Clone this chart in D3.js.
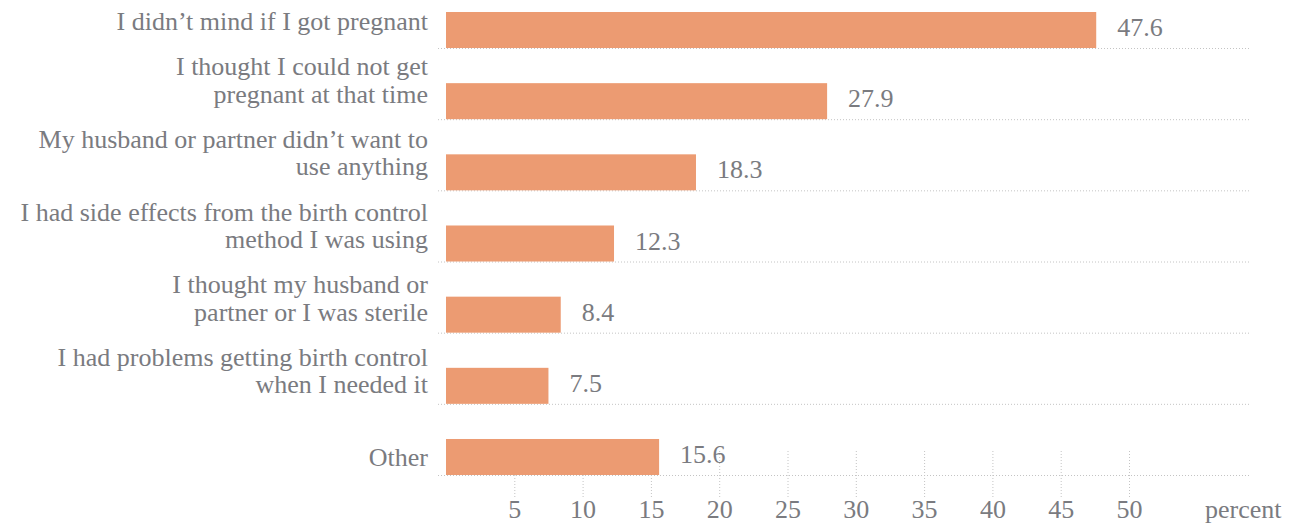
<!DOCTYPE html>
<html>
<head>
<meta charset="utf-8">
<script src="https://cdn.jsdelivr.net/npm/d3@7"></script>
<style>
  body { margin: 0; background: #fff; }
</style>
</head>
<body>
<div class="chart"></div>
<script>
// data
var reasons = [
  ["I didn\u2019t mind if I got pregnant"],
  ["I thought I could not get", "pregnant at that time"],
  ["My husband or partner didn\u2019t want to", "use anything"],
  ["I had side effects from the birth control", "method I was using"],
  ["I thought my husband or", "partner or I was sterile"],
  ["I had problems getting birth control", "when I needed it"],
  ["Other"]
];
var percents = [47.6, 27.9, 18.3, 12.3, 8.4, 7.5, 15.6];
var tickValues = [5, 10, 15, 20, 25, 30, 35, 40, 45, 50];
var unitLabel = "percent";

// setting up the chart
var widthSVG = 1294;
var heightSVG = 523;
var fontSize = 26;
var fontFamily = "'Liberation Serif', 'Times New Roman', serif";
var textGray = "#7a7b80";
var gridGray = "#c4c4c4";

var svg = d3.select(".chart")
  .append("svg")
  .attr("width", widthSVG)
  .attr("height", heightSVG);

var rows = d3.range(percents.length);

var xScale = d3.scaleLinear()
  .domain([0, 50])
  .range([446, 1129]);

var yScale = d3.scaleBand()
  .domain(rows)
  .range([12, 475])
  .paddingInner(0.494)
  .paddingOuter(0);

// labels on the left sit on a slightly wider step than the bars
var labelScale = d3.scalePoint()
  .domain(rows)
  .range([30, 466]);

// x axis with dotted ticks (drawn first so the bars cover them)
var bottomAxis = d3.axisBottom(xScale)
  .tickValues(tickValues)
  .tickSize(46)
  .tickPadding(3)
  .tickFormat(d3.format("d"));

var axisGroup = svg.append("g")
  .attr("transform", "translate(0, 451)")
  .call(bottomAxis);

axisGroup.select(".domain").remove();
axisGroup.selectAll(".tick line")
  .attr("stroke", gridGray)
  .attr("stroke-dasharray", "1,2");
axisGroup.selectAll(".tick text")
  .style("font-size", fontSize + "px")
  .style("font-family", fontFamily)
  .attr("fill", textGray);

svg.append("text")
  .attr("x", 1205)
  .attr("y", 518)
  .style("font-size", fontSize + "px")
  .style("font-family", fontFamily)
  .attr("fill", textGray)
  .text(unitLabel);

// dotted gridlines under each bar
svg.selectAll(".grid")
  .data(rows)
  .enter()
  .append("line")
  .attr("class", "grid")
  .attr("x1", 438)
  .attr("x2", 1251)
  .attr("y1", d => yScale(d) + yScale.bandwidth() + 0.5)
  .attr("y2", d => yScale(d) + yScale.bandwidth() + 0.5)
  .attr("stroke", gridGray)
  .attr("stroke-dasharray", "1,2");

// bars
svg.selectAll(".bar")
  .data(rows)
  .enter()
  .append("rect")
  .attr("class", "bar")
  .attr("x", xScale(0))
  .attr("y", d => yScale(d))
  .attr("width", d => xScale(percents[d]) - xScale(0))
  .attr("height", yScale.bandwidth())
  .attr("fill", "#ec9b72");

// value labels
svg.selectAll(".value")
  .data(rows)
  .enter()
  .append("text")
  .attr("class", "value")
  .attr("x", d => xScale(percents[d]) + 21)
  .attr("y", d => yScale(d) + yScale.bandwidth() / 2 + 6)
  .style("font-size", fontSize + "px")
  .style("font-family", fontFamily)
  .attr("fill", textGray)
  .text(d => percents[d].toFixed(1));

// category labels, last line sits on the label point
var lineHeight = 27.5;
var labels = svg.selectAll(".cat")
  .data(rows)
  .enter()
  .append("text")
  .attr("class", "cat")
  .attr("text-anchor", "end")
  .style("font-size", fontSize + "px")
  .style("font-family", fontFamily)
  .attr("fill", textGray)
  .attr("y", d => labelScale(d) - (reasons[d].length - 1) * lineHeight);

labels.selectAll("tspan")
  .data(d => reasons[d])
  .enter()
  .append("tspan")
  .attr("x", 428)
  .attr("dy", (d, i) => i === 0 ? 0 : lineHeight)
  .text(d => d);
</script>
</body>
</html>
